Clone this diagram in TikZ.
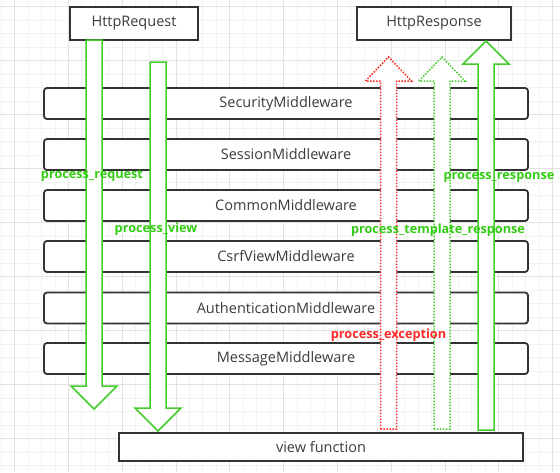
\documentclass[tikz,border=0pt]{standalone}
\usepackage{fontspec}
\setmainfont{Open Sans}
\definecolor{boxGray}{RGB}{51,51,51}
\definecolor{textGray}{RGB}{60,60,60}
\definecolor{arrowGreen}{RGB}{68,204,44}
\definecolor{labelGreen}{RGB}{51,204,20}
\definecolor{labelRed}{RGB}{255,40,40}
\definecolor{gridMinorGray}{RGB}{243,243,243}
\definecolor{gridMajorGray}{RGB}{226,226,226}

\begin{document}
\begin{tikzpicture}
[x=1pt,y=-1pt,
  boxDecorate/.style={draw=boxGray,line width=1.8pt,fill=white,text=textGray,
    font=\fontsize{14.5}{16}\selectfont,inner sep=0pt},
  layerDecorate/.style={boxDecorate,rounded corners=3pt,minimum width=484pt,minimum height=31pt},
  solidGreen/.style={draw=arrowGreen,line width=1.5pt,fill=white,line join=miter},
  dotGreen/.style={draw=arrowGreen,line width=1.5pt,fill=white,dash pattern=on 1.5pt off 1.5pt},
  dotRed/.style={draw=labelRed,line width=1.5pt,fill=white,dash pattern=on 1.5pt off 1.5pt},
  labelDecorate/.style={inner sep=0pt,font=\bfseries\fontsize{12.7}{14}\selectfont}]
\useasboundingbox (0,0) rectangle (560,472);
%% background grid
\foreach \k in {0,...,41} {
  \draw[gridMinorGray,line width=0.7pt] (1.05+13.45*\k,0) -- (1.05+13.45*\k,472);
}
\foreach \k in {0,...,34} {
  \draw[gridMinorGray,line width=0.7pt] (0,6.7+13.5*\k) -- (560,6.7+13.5*\k);
}
\foreach \k in {1,5,...,41} {
  \draw[gridMajorGray,line width=0.7pt] (1.05+13.45*\k,0) -- (1.05+13.45*\k,472);
}
\foreach \k in {0,4,...,32} {
  \draw[gridMajorGray,line width=0.7pt] (0,6.7+13.5*\k) -- (560,6.7+13.5*\k);
}
%% middleware layers
\foreach \nodename/\y/\txt in {security/103.5/SecurityMiddleware,
    session/154.5/SessionMiddleware, common/205.5/CommonMiddleware,
    csrf/256.5/CsrfViewMiddleware, auth/308/AuthenticationMiddleware,
    message/358.5/MessageMiddleware} {
  \node (\nodename) at (286,\y) [layerDecorate] {\txt};
}
%% request, response and view
\node (req) at (134,23.5) [boxDecorate,minimum width=128pt,minimum height=33pt] {HttpRequest};
\node (resp) at (434,23.5) [boxDecorate,minimum width=154pt,minimum height=33pt] {HttpResponse};
\node (view) at (321,447) [boxDecorate,minimum width=404pt,minimum height=28pt] {view function};
%% block arrows
\foreach \xc/\ys/\yh/\yt/\arrowstyle in {94/40/386/409/solidGreen,
    158/62/408/431/solidGreen, 388.5/429/81/57/dotRed,
    442/429/81/57/dotGreen, 486/430/64/41/solidGreen} {
  \draw[\arrowstyle] (\xc-8,\ys) -- (\xc-8,\yh) -- (\xc-23,\yh) -- (\xc,\yt)
    -- (\xc+23,\yh) -- (\xc+8,\yh) -- (\xc+8,\ys) -- cycle;
}
%% hook labels
\node (preq) at (92,176) [labelDecorate,text=labelGreen] {process\_request};
\node (pview) at (156,229) [labelDecorate,text=labelGreen] {process\_view};
\node (presp) at (499,177) [labelDecorate,text=labelGreen] {process\_response};
\node (ptpl) at (438,230) [labelDecorate,text=labelGreen] {process\_template\_response};
\node (pexc) at (388.5,335) [labelDecorate,text=labelRed] {process\_exception};
\end{tikzpicture}
\end{document}
